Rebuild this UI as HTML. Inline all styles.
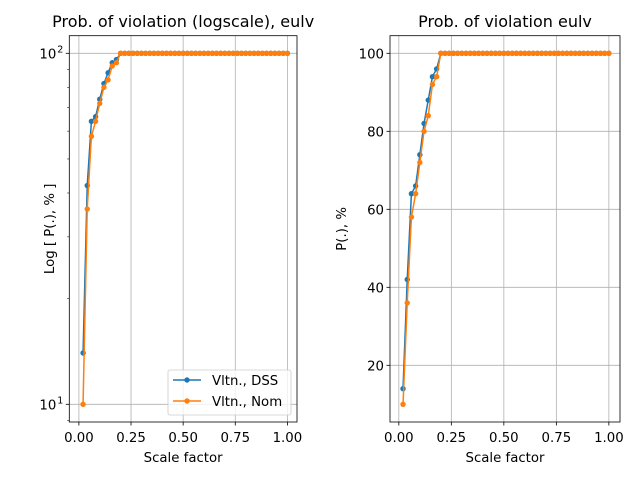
<!DOCTYPE html>
<html><head><meta charset="utf-8"><style>
body{margin:0;background:#fff;}
svg{display:block;font-family:"DejaVu Sans","Liberation Sans",sans-serif;}
</style></head><body>
<svg id="chart" width="640" height="480" viewBox="0 0 640 480"></svg>
<script>
const xValues = [];
for (let i = 1; i <= 50; i++) xValues.push(+(i * 0.02).toFixed(2));
const dssHead = [14, 42, 64, 66, 74, 82, 88, 94, 96];
const nomHead = [10, 36, 58, 64, 72, 80, 84, 92, 94];
const dssValues = dssHead.concat(new Array(50 - dssHead.length).fill(100));
const nomValues = nomHead.concat(new Array(50 - nomHead.length).fill(100));
const xTickLabels = ["0.00", "0.25", "0.50", "0.75", "1.00"];
const xTicks = [0, 0.25, 0.5, 0.75, 1];
const linTicks = [20, 40, 60, 80, 100];
const logMajor = [10, 100];
const seriesNames = ["Vltn., DSS", "Vltn., Nom"];

const NS = "http://www.w3.org/2000/svg";
const svg = document.getElementById("chart");
function mk(tag, attrs, parent) {
  const e = document.createElementNS(NS, tag);
  for (const k in attrs) e.setAttribute(k, attrs[k]);
  (parent || svg).appendChild(e);
  return e;
}
const colors = ["#1f77b4", "#ff7f0e"];
const FS = 13.3;
const MR = 2.7;

function drawPanel(p) {
  const g = mk("g", {});
  
  
  const xs = v => p.x0 + (v - p.xmin) / (p.xmax - p.xmin) * (p.x1 - p.x0);
  const ys = p.ys;
  xTicks.forEach((t, i) => {
    const X = xs(t);
    const gl = mk("line", {x1: X, x2: X, y1: p.y0, y2: p.y1, stroke: "#b0b0b0", "stroke-width": 0.8}, g);
    
    
    mk("line", {x1: X, x2: X, y1: p.y1, y2: p.y1 + 3.5, stroke: "#000", "stroke-width": 0.8}, g);
    const tx = mk("text", {x: X, y: p.y1 + 20, "font-size": FS, "text-anchor": "middle"}, g);
    tx.textContent = xTickLabels[i];
    
    
  });
  p.yTicks.forEach(t => {
    const Y = ys(t);
    const gl = mk("line", {x1: p.x0, x2: p.x1, y1: Y, y2: Y, stroke: "#b0b0b0", "stroke-width": 0.8}, g);
    
    
    mk("line", {x1: p.x0 - 3.5, x2: p.x0, y1: Y, y2: Y, stroke: "#000", "stroke-width": 0.8}, g);
    const tx = mk("text", {x: p.x0 - 6, y: Y + 5, "font-size": FS, "text-anchor": "end"}, g);
    if (p.log) {
      tx.setAttribute("x", p.x0 - 13);
      tx.textContent = "10";
      const sup = mk("text", {x: p.x0 - 12, y: Y - 1, "font-size": 9.5}, g);
      sup.textContent = String(Math.round(Math.log10(t)));
    } else tx.textContent = String(t);
    
    
  });
  if (p.log) {
    [9, 20, 30, 40, 50, 60, 70, 80, 90].forEach(t => {
      const Y = ys(t);
      mk("line", {x1: p.x0 - 2, x2: p.x0, y1: Y, y2: Y, stroke: "#000", "stroke-width": 0.6}, g);
    });
  }
  [dssValues, nomValues].forEach((vals, si) => {
    const pts = vals.map((v, i) => xs(xValues[i]).toFixed(2) + "," + ys(v).toFixed(2));
    const pl = mk("polyline", {points: pts.join(" "), fill: "none", stroke: colors[si], "stroke-width": 1.5}, g);
    
    
    vals.forEach((v, i) => {
      const c = mk("circle", {cx: xs(xValues[i]), cy: ys(v), r: MR, fill: colors[si]}, g);
      
      
    });
  });
  const fr = mk("rect", {x: p.x0, y: p.y0, width: p.x1 - p.x0, height: p.y1 - p.y0, fill: "none", stroke: "#000", "stroke-width": 0.8}, g);
  
  
  const title = mk("text", {x: (p.x0 + p.x1) / 2, y: 27, "font-size": 16, "text-anchor": "middle"}, g);
  title.textContent = p.title;
  
  
  const xl = mk("text", {x: (p.x0 + p.x1) / 2, y: 462, "font-size": FS, "text-anchor": "middle"}, g);
  xl.textContent = "Scale factor";
  
  
  const yl = mk("text", {x: 0, y: 0, "font-size": FS, "text-anchor": "middle", transform: `translate(${p.ylx},${(p.y0 + p.y1) / 2}) rotate(-90)`}, g);
  yl.textContent = p.ylabel;
  
  
}

const Y0 = 35.7, Y1 = 422;
const yTop10 = 53.3, yBot10 = 404.3;
drawPanel({
  name: "log-panel", x0: 69.3, x1: 297, y0: Y0, y1: Y1, xmin: -0.046, xmax: 1.046, log: true,
  ys: v => yBot10 - (Math.log10(v) - 1) * (yBot10 - yTop10),
  yTicks: logMajor, title: "Prob. of violation (logscale), eulv", ylabel: "Log [ P(.), % ]", ylx: 54
});
drawPanel({
  name: "linear-panel", x0: 390, x1: 620, y0: Y0, y1: Y1, xmin: -0.042, xmax: 1.053, log: false,
  ys: v => 53.3 + (100 - v) * 3.9,
  yTicks: linTicks, title: "Prob. of violation eulv", ylabel: "P(.), %", ylx: 346
});

const lg = mk("g", {});


mk("rect", {x: 168, y: 370, width: 123, height: 45, rx: 2, fill: "#fff", "fill-opacity": 0.8, stroke: "#cccccc", "stroke-width": 0.8}, lg);
seriesNames.forEach((n, i) => {
  const y = 380 + i * 21;
  const e = mk("g", {}, lg);
  
  
  mk("line", {x1: 173, x2: 201, y1: y, y2: y, stroke: colors[i], "stroke-width": 1.5}, e);
  mk("circle", {cx: 187, cy: y, r: MR, fill: colors[i]}, e);
  const t = mk("text", {x: 212, y: y + 5, "font-size": FS}, e);
  t.textContent = n;
});
</script>
</body></html>
